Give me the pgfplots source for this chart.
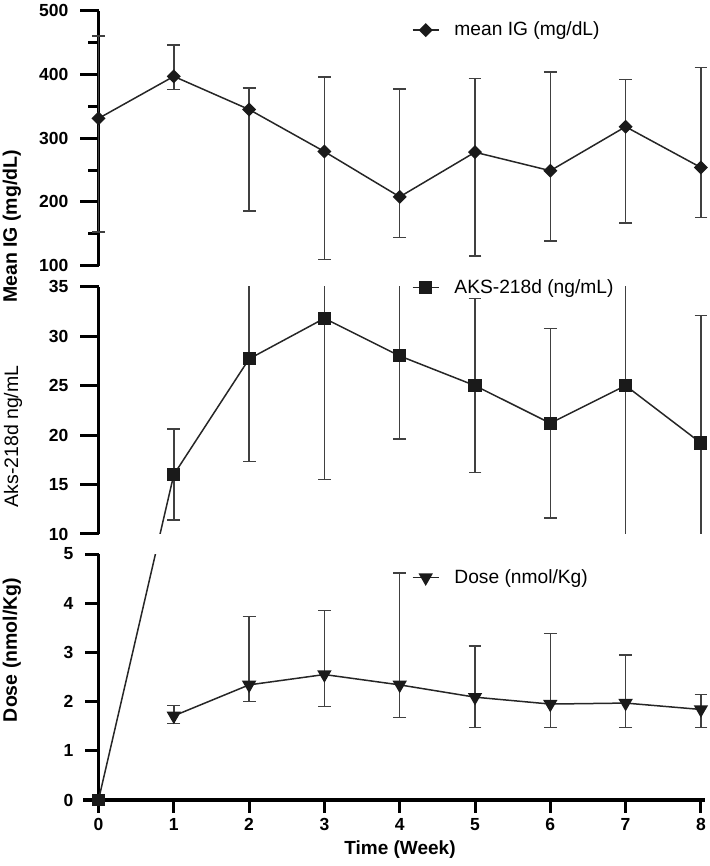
\documentclass[border=0pt]{standalone}
\usepackage{fontspec}
\setmainfont{Liberation Sans}
\usepackage{pgfplots}
\usepackage{pgfplotstable}
\pgfplotsset{compat=1.18}
\definecolor{ln}{HTML}{262626}
\definecolor{eb}{HTML}{404040}
\definecolor{mk}{HTML}{1A1A1A}

% week, mean, error plus, error minus
\pgfplotstableread{
wk y ep em
0 331 129 178
1 397 49 21
2 345 34 159
3 279 117 169
4 208 169 64
5 278 116 163
6 249 155 110
7 318 74 151
8 254 157 78
}\ig
\pgfplotstableread{
wk y ep em
0 0 0 0
1 16.0 4.6 4.6
2 27.7 10.4 10.4
3 31.8 16.3 16.3
4 28.0 8.4 8.4
5 25.0 8.8 8.8
6 21.2 9.6 9.6
7 25.0 16.0 16.0
8 19.2 12.9 12.9
}\aks
\pgfplotstableread{
wk y ep em
1 1.71 0.21 0.15
2 2.34 1.39 0.34
3 2.55 1.30 0.65
4 2.34 2.27 0.66
5 2.09 1.04 0.62
6 1.95 1.43 0.48
7 1.97 0.98 0.50
8 1.84 0.31 0.37
}\dose

\pgfplotsset{
  panel/.style={
    scale only axis, width=312.5pt, xmin=-0.2, xmax=8.1,
    anchor=south west,
    axis y line*=left, axis y line shift=-7.53pt,
    hide obscured x ticks=false, hide obscured y ticks=false,
    tick align=outside,
    tick label style={font=\bfseries\fontsize{8.75}{10}\selectfont},
    yticklabel style={xshift=-2.5pt},
    xticklabel style={yshift=1pt},
    /pgf/number format/assume math mode=true,
    legend style={draw=none, fill=none, anchor=west, inner sep=0pt,
      nodes={inner sep=0pt},
      /tikz/every odd column/.append style={column sep=7.5pt},
      font=\fontsize{9.6}{11}\selectfont},
    legend image code/.code={\draw[mark repeat=2,mark phase=2,#1]
      plot coordinates {(0pt,0pt)(6.5pt,0pt)(13pt,0pt)};},
  },
  heavy/.style={
    axis line style={-, line width=1.75pt, black},
    x axis line style={-, line width=1.75pt, black, shorten >=1.5pt},
    y axis line style={-, line width=1.75pt, black},
    tick style={line width=1.5pt, black},
  },
  ser/.style={line width=0.75pt, color=ln,
    error bars/y dir=both, error bars/y explicit,
    error bars/error bar style={line width=0.7pt, color=eb},
    error bars/error mark options={rotate=90, mark size=3.2pt, line width=0.7pt, color=eb}},
}

\begin{document}
\begin{tikzpicture}
\useasboundingbox (0,0) rectangle (354.5pt,433pt);

% top panel
\begin{axis}[panel, at={(41.72pt,300.15pt)}, height=127.5pt,
  ymin=100, ymax=500, ytick={100,200,300,400,500},
  minor ytick={150,250,350,450},
  major tick length=9pt, minor tick length=5pt,
  xtick=\empty, clip marker paths=true,
  legend style={at={(0.525,0.924)}}, heavy,
  x axis line style={draw=none}]
\addplot[ser, mark=square*, mark size=2.1pt, mark options={fill=mk,draw=mk,rotate=45,solid}]
  table[x=wk,y=y,y error plus=ep,y error minus=em]{\ig};
\addlegendentry{mean IG (mg/dL)}
\end{axis}

% middle panel
\begin{axis}[panel, at={(41.72pt,166pt)}, height=123.65pt,
  ymin=10, ymax=35, ytick={10,15,20,25,30,35},
  major tick length=9pt,
  xtick=\empty, clip marker paths=true,
  legend style={at={(0.525,0.996)}}, heavy,
  x axis line style={draw=none}]
\addplot[ser, mark=square*, mark size=2.9pt, mark options={fill=mk,draw=mk,solid},
  y filter/.expression={y<10 ? 10-(20+(5-y)*49.2)/9.893 : y}]
  table[x=wk,y=y,y error plus=ep,y error minus=em]{\aks};
\addlegendentry{AKS-218d (ng/mL)}
\end{axis}

% bottom panel
\begin{axis}[panel, at={(41.72pt,33pt)}, height=123pt,
  ymin=0, ymax=5, ytick={0,1,2,3,4,5},
  xtick={0,1,2,3,4,5,6,7,8},
  axis x line*=bottom,
  major tick length=6.5pt,
  legend style={at={(0.525,0.904)}}, heavy]
\addplot[forget plot, line width=0.75pt, color=ln, mark=none,
  y filter/.expression={y>=10 ? 5+(20+(y-10)*9.893)/49.2 : y}]
  table[x=wk,y=y]{\aks};
\addplot[forget plot, only marks, mark=square*, mark size=2.9pt,
  mark options={fill=mk,draw=mk}, restrict y to domain=-1:5]
  table[x=wk,y=y]{\aks};
\addplot[ser, mark=triangle*, mark size=3.4pt, mark options={fill=mk,draw=mk,rotate=180,solid}]
  table[x=wk,y=y,y error plus=ep,y error minus=em]{\dose};
\addlegendentry{Dose (nmol/Kg)}
\end{axis}

\node[rotate=90, font=\bfseries\fontsize{9.75}{11}\selectfont] at (6pt,319.75pt) {Mean IG (mg/dL)};
\node[rotate=90, font=\fontsize{9.75}{11}\selectfont] at (6.5pt,214.75pt) {Aks-218d ng/mL};
\node[rotate=90, font=\bfseries\fontsize{9.75}{11}\selectfont] at (6pt,108pt) {Dose (nmol/Kg)};
\node[font=\bfseries\fontsize{9.5}{11}\selectfont] at (200pt,8pt) {Time (Week)};
\end{tikzpicture}
\end{document}
